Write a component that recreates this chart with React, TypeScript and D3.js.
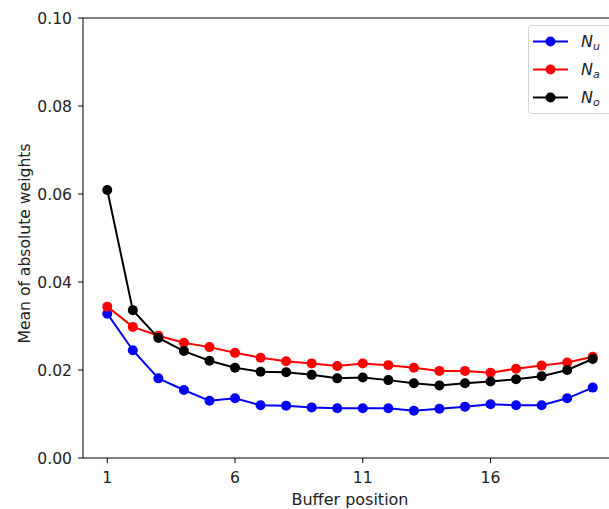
import React from "react";
import * as d3 from "d3";

const positions = [1,2,3,4,5,6,7,8,9,10,11,12,13,14,15,16,17,18,19,20];
const seriesNu = [0.0328,0.0245,0.0181,0.01545,0.0130,0.01356,0.0120,0.0119,0.0115,0.0113,0.0113,0.0113,0.01075,0.0112,0.01167,0.0122,0.0120,0.0120,0.01356,0.0160];
const seriesNa = [0.0344,0.0298,0.0278,0.0262,0.0252,0.0239,0.0228,0.0220,0.0215,0.0209,0.0215,0.0211,0.0205,0.0198,0.0198,0.0194,0.0203,0.0210,0.0217,0.0230];
const seriesNo = [0.0609,0.0336,0.0273,0.0243,0.0221,0.0205,0.0196,0.0195,0.0189,0.0181,0.0183,0.0177,0.0170,0.0165,0.0170,0.0174,0.0179,0.0186,0.0200,0.0225];
const xTicks = [1, 6, 11, 16];
const yTicks = [0, 0.02, 0.04, 0.06, 0.08, 0.10];
const seriesNames = ["u", "a", "o"];
const seriesColors = ["#0000ff", "#ff0000", "#000000"];

export default function App() {
  const W = 609, H = 509;
  const left = 83, top = 18, bottom = 458;
  const x = d3.scaleLinear().domain([0.05, 20.95]).range([left, left + 20.9 * 25.55]);
  const y = d3.scaleLinear().domain([0, 0.1]).range([bottom, top]);
  const right = x(20.95);
  const all = [seriesNu, seriesNa, seriesNo];
  const line = d3.line<number>().x((_, i) => x(positions[i])).y((d) => y(d));
  const font = "DejaVu Sans, sans-serif";
  const axisColor = "#000";
  const tickColor = "#222";
  const fs = 15.6;
  return (
    <svg width={W} height={H} style={{ position: "absolute", left: 0, top: 0, background: "#fff" }} fontFamily={font}>
      <rect x={0} y={0} width={W} height={H} fill="#fff" />
      {all.map((s, k) => (
        <g key={k}>
          <path d={line(s) || ""} fill="none" stroke={seriesColors[k]} strokeWidth={2} />
          {s.map((v, i) => (
            <circle key={i} cx={x(positions[i])} cy={y(v)} r={5} fill={seriesColors[k]} />
          ))}
        </g>
      ))}
      <line x1={left} y1={top} x2={left} y2={bottom} stroke={axisColor} strokeWidth={1} />
      <line x1={left} y1={bottom} x2={right} y2={bottom} stroke={axisColor} strokeWidth={1} />
      <line x1={left} y1={top} x2={right} y2={top} stroke={axisColor} strokeWidth={1} />
      {yTicks.map((t) => (
        <g key={t}>
          <line x1={left - 5} x2={left} y1={y(t)} y2={y(t)} stroke={axisColor} />
          <text x={left - 11} y={y(t)} dy="0.36em" textAnchor="end" fontSize={fs} fill={tickColor}>
            {t.toFixed(2)}
          </text>
        </g>
      ))}
      {xTicks.map((t) => (
        <g key={t}>
          <line x1={x(t)} x2={x(t)} y1={bottom} y2={bottom + 5} stroke={axisColor} />
          <text x={x(t)} y={bottom + 24.5} textAnchor="middle" fontSize={fs} fill={tickColor}>
            {t}
          </text>
        </g>
      ))}
      <text x={350} y={505} textAnchor="middle" fontSize={16} fill={tickColor}>Buffer position</text>
      <text transform={`translate(29.5, 243.5) rotate(-90)`} textAnchor="middle" fontSize={fs} fill={tickColor}>
        Mean of absolute weights
      </text>
      <rect x={528.5} y={25.5} width={90} height={88} rx={3} fill="#fff" fillOpacity={0.8} stroke="#d5d5d5" />
      {seriesNames.map((n, k) => {
        const ly = 41.5 + k * 28;
        return (
          <g key={n}>
            <line x1={533} x2={568} y1={ly} y2={ly} stroke={seriesColors[k]} strokeWidth={2} />
            <circle cx={550.5} cy={ly} r={5} fill={seriesColors[k]} />
            <text x={581} y={ly + 5.5} fontSize={16} fontStyle="italic" fill={tickColor}>
              N<tspan fontSize={11} dy={3}>{n}</tspan>
            </text>
          </g>
        );
      })}
    </svg>
  );
}
